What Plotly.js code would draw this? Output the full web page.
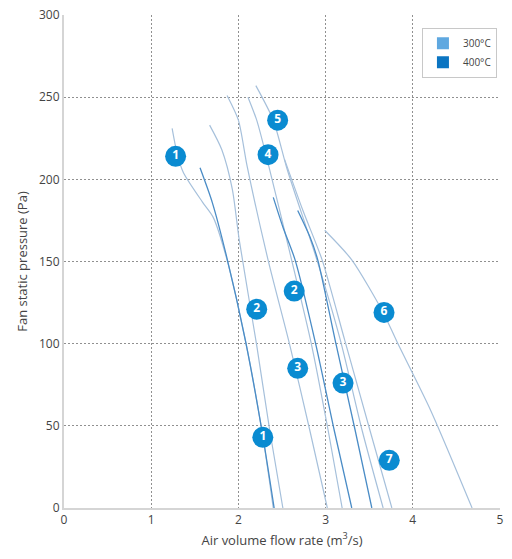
<!DOCTYPE html>
<html>
<head>
<meta charset="utf-8">
<script src="https://cdn.plot.ly/plotly-3.0.1.min.js"></script>
<style>html,body{margin:0;padding:0;background:#fff;}#chart{width:512px;height:559px;}</style>
</head>
<body>
<div id="chart"></div>
<script>
// Fan curves: x = air volume flow rate (m3/s), y = fan static pressure (Pa)
const c1_300_x = [1.24, 1.30, 1.37, 1.59, 1.71, 1.87, 2.08, 2.27, 2.40];
const c1_300_y = [231, 215, 204, 186, 177, 151, 102, 47, 0];
const c1_400_x = [1.56, 1.70, 1.86, 2.08, 2.27, 2.41];
const c1_400_y = [207, 186, 154, 102, 47, 0];
const c2_300_x = [1.67, 1.81, 1.93, 2.01, 2.21, 2.36, 2.51];
const c2_300_y = [233, 218, 194, 163, 99, 47, 0];
const c4_300_x = [1.87, 2.00, 2.10, 2.34, 2.59, 2.82, 3.02];
const c4_300_y = [251, 236, 208, 151, 99, 47, 0];
const c5_300_x = [2.11, 2.21, 2.33, 2.61, 2.84, 3.03, 3.19];
const c5_300_y = [250, 236, 212, 151, 99, 47, 0];
const c2_400_x = [2.40, 2.51, 2.65, 2.89, 3.10, 3.30];
const c2_400_y = [189, 171, 151, 99, 47, 0];
const c6_300_x = [2.20, 2.40, 2.56, 2.90, 3.17, 3.42, 3.66];
const c6_300_y = [257, 236, 206, 151, 102, 47, 0];
const c7_300_x = [2.53, 2.74, 2.96, 3.22, 3.51, 3.76];
const c7_300_y = [212, 181, 151, 102, 47, 0];
const c3_400_x = [2.68, 2.82, 2.91, 3.11, 3.34, 3.53];
const c3_400_y = [181, 165, 151, 102, 47, 0];
const c8_300_x = [2.99, 3.30, 3.66, 3.82, 4.20, 4.68];
const c8_300_y = [169, 151, 119, 101, 60, 0];

// Numbered curve labels
const labelText = ["1", "4", "5", "2", "2", "3", "3", "6", "7", "1"];
const labelX = [1.28, 2.34, 2.45, 2.21, 2.64, 2.68, 3.20, 3.67, 3.73, 2.28];
const labelY = [214, 215, 236, 121, 132, 85, 76, 119, 29, 43];

const legendNames = ["300°C", "400°C"];
const xTicks = [0, 1, 2, 3, 4, 5];
const yTicks = [0, 50, 100, 150, 200, 250, 300];

const lightCol = '#a6c0db';
const darkCol = '#4a8cc6';
const lightSwatch = '#5fa8e0';
const darkSwatch = '#0b75c2';

function curve(x, y, col, w) {
  return {x: x, y: y, type: 'scatter', mode: 'lines', showlegend: false, hoverinfo: 'skip',
          line: {color: col, width: w, shape: 'spline', smoothing: 0.7}};
}

const traces = [
  curve(c1_300_x, c1_300_y, lightCol, 1.2),
  curve(c2_300_x, c2_300_y, lightCol, 1.2),
  curve(c4_300_x, c4_300_y, lightCol, 1.2),
  curve(c5_300_x, c5_300_y, lightCol, 1.2),
  curve(c6_300_x, c6_300_y, lightCol, 1.2),
  curve(c7_300_x, c7_300_y, lightCol, 1.2),
  curve(c8_300_x, c8_300_y, lightCol, 1.2),
  curve(c1_400_x, c1_400_y, darkCol, 1.3),
  curve(c2_400_x, c2_400_y, darkCol, 1.3),
  curve(c3_400_x, c3_400_y, darkCol, 1.3),
  {x: labelX, y: labelY, text: labelText, type: 'scatter', mode: 'markers+text', showlegend: false,
   hoverinfo: 'skip', textposition: 'middle center',
   marker: {size: 21, color: '#0a8bd1', line: {width: 0}},
   textfont: {family: 'Open Sans, sans-serif', size: 12, color: '#ffffff', weight: 'bold'}},
  {x: [null], y: [null], type: 'bar', name: legendNames[0], marker: {color: lightSwatch}, showlegend: true},
  {x: [null], y: [null], type: 'bar', name: legendNames[1], marker: {color: darkSwatch}, showlegend: true}
];

const layout = {
  width: 512, height: 559,
  margin: {l: 64, r: 12, t: 15, b: 51},
  paper_bgcolor: '#ffffff', plot_bgcolor: '#ffffff',
  font: {family: 'Open Sans, sans-serif', size: 12, color: '#444'},
  showlegend: true,
  legend: {x: 0.993, y: 0.974, xanchor: 'right', yanchor: 'top',
           bgcolor: '#ffffff', bordercolor: '#c8c8c8', borderwidth: 1,
           font: {size: 10, color: '#444'}, tracegroupgap: 2, itemwidth: 30},
  xaxis: {range: [0, 5], tickvals: xTicks, showgrid: true, gridcolor: '#909090',
          griddash: '2px,2px', gridwidth: 1, zeroline: false, showline: true,
          linecolor: '#d5d5d5', linewidth: 2, ticks: '', fixedrange: true,
          title: {text: 'Air volume flow rate (m<sup>3</sup>/s)', font: {size: 13, color: '#444'}, standoff: 8}},
  yaxis: {range: [0, 300], tickvals: yTicks, showgrid: true, gridcolor: '#909090',
          griddash: '2px,2px', gridwidth: 1, zeroline: false, showline: true,
          linecolor: '#d5d5d5', linewidth: 2, ticks: '', fixedrange: true,
          title: {text: 'Fan static pressure (Pa)', font: {size: 13, color: '#444'}, standoff: 8}},
  barmode: 'overlay'
};

Plotly.newPlot('chart', traces, layout, {displayModeBar: false, staticPlot: true});
</script>
</body>
</html>
